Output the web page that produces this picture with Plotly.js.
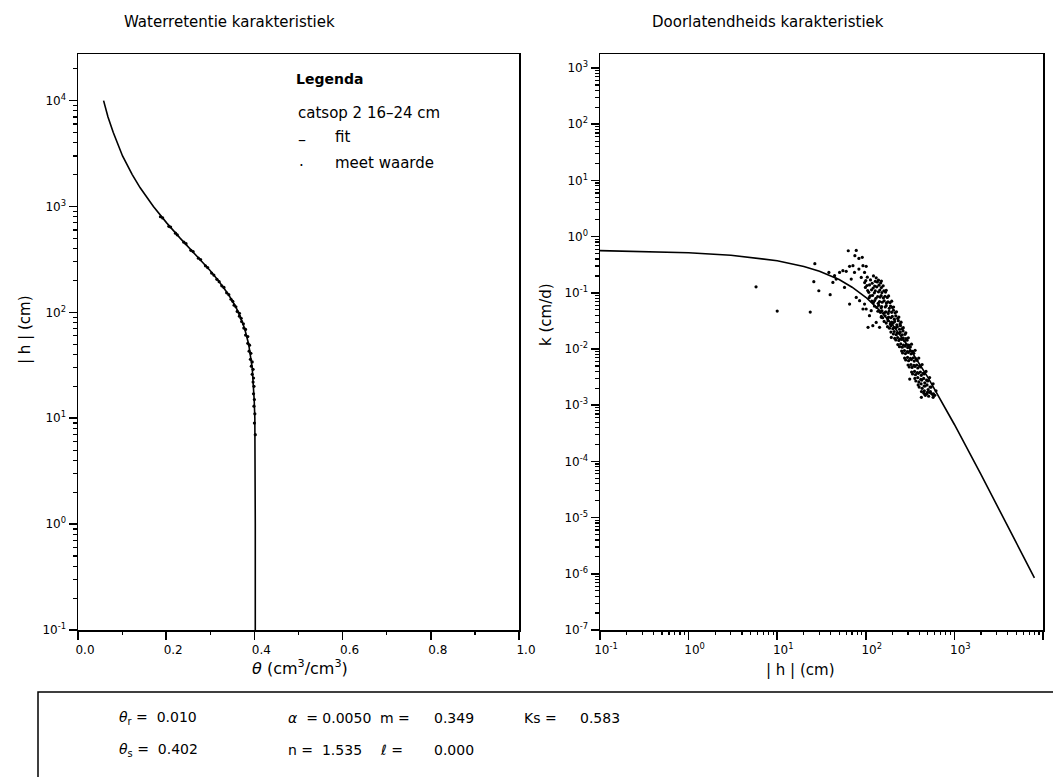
<!DOCTYPE html>
<html><head><meta charset="utf-8">
<script src="https://cdn.plot.ly/plotly-3.0.1.min.js"></script>
<style>html,body{margin:0;padding:0;background:#fff}#chart{width:1053px;height:777px}</style>
</head><body><div id="chart"></div>
<script>
// ---- Water retention: fitted curve (theta, |h|)
const fitH     = [10000, 7000, 5000, 3000, 2000, 1500, 1000, 700, 500, 400, 300, 250, 200, 150, 120, 100, 70, 50, 30, 20, 15, 10, 5, 1, 0.1];
const fitTheta = [0.058, 0.068, 0.080, 0.101, 0.123, 0.141, 0.171, 0.201, 0.232, 0.254, 0.282, 0.299, 0.318, 0.340, 0.354, 0.364, 0.378, 0.387, 0.395, 0.398, 0.3995, 0.401, 0.4015, 0.402, 0.402];
// ---- Water retention: measured values
const measTheta = [0.187,0.192,0.206,0.210,0.221,0.225,0.240,0.245,0.256,0.261,0.273,0.278,0.289,0.294,0.303,0.308,0.315,0.320,0.326,0.331,0.337,0.342,0.347,0.351,0.354,0.358,0.361,0.366,0.366,0.370,0.371,0.375,0.376,0.380,0.380,0.385,0.385,0.389,0.388,0.392,0.391,0.395,0.393,0.397,0.395,0.398,0.397,0.399,0.398,0.400,0.399,0.401,0.400,0.402];
const measH     = [800,780,650,640,560,540,460,445,385,375,325,315,275,265,235,225,205,195,178,172,153,147,133,127,117,113,102,98,92,88,82,78,71,69,61,59,51,49,43,41,36,34,31,29,26,24,22,20,17,15,13,11,9,7];

// ---- Conductivity: fitted curve (|h|, k)
const condFitH = [0.1, 0.3, 1, 3, 10, 20, 30, 50, 70, 100, 150, 200, 300, 500, 700, 1000, 2000, 3000, 5000, 8000];
const condFitK = [0.563, 0.548, 0.517, 0.467, 0.373, 0.295, 0.242, 0.172, 0.126, 0.0833, 0.0454, 0.0269, 0.0113, 0.00316, 0.00126, 4.54e-4, 5.81e-5, 1.70e-5, 3.59e-6, 8.5e-7];
// ---- Conductivity: measured values (scattered points, then the dense band)
const condMeasH = [
 5.77,10.0,23.6,26.6,25.9,29.5,39.6,38.3,44.4,50.6,55.1,60.1,63.4,78.0,75.3,83.6,91.2,65.6,71.6,74.6,68.5,83.6,92.9,101,96.8,88.9,42.5,46.3,57.5,65.6,78,85.1,92.9,96.8,110,120,106,101,115,131,150,143,194,313,424,575,527,462,
 104,122,131,
 100,113,128,139,150,
 97,118,135,147,
 103,110,126,141,157,
 99,121,133,150,
 105,116,128,144,160,170,
 108,125,139,152,167,
 112,119,136,149,165,181,
 109,130,145,158,175,
 117,126,143,161,178,196,
 122,138,153,171,188,
 125,140,151,170,190,206,
 133,149,166,184,200,
 137,152,168,183,205,222,
 146,162,179,196,214,
 150,165,181,199,218,236,
 155,176,192,210,229,
 161,178,196,212,233,250,
 170,189,204,224,244,
 176,192,208,227,246,265,
 185,202,219,240,258,
 192,209,226,245,263,283,
 205,221,239,257,277,
 212,229,246,265,284,302,
 218,236,255,273,292,
 230,248,266,286,306,328,
 240,258,278,297,318,
 254,273,294,316,338,360,
 260,280,302,324,348,
 274,296,319,344,369,396,
 282,304,327,352,378,
 300,323,349,375,404,432,
 309,333,359,386,416,
 329,355,382,413,444,478,
 337,364,392,423,455,
 358,386,417,450,485,525,
 367,397,428,463,500,
 390,421,455,491,531,575,
 400,432,467,505,546,
 425,458,496,536,580,620,
 450,488,528,570,
 470,512,555,600];
const condMeasK = [
 0.128,0.0474,0.0455,0.33,0.158,0.109,0.0927,0.231,0.202,0.231,0.248,0.241,0.561,0.569,0.458,0.41,0.428,0.296,0.304,0.231,0.176,0.265,0.304,0.296,0.231,0.188,0.153,0.176,0.125,0.063,0.083,0.0724,0.0515,0.063,0.0392,0.026,0.0243,0.0515,0.0481,0.0298,0.0366,0.0243,0.0161,0.00292,0.00138,0.00138,0.0017,0.00158,
 0.19,0.2,0.185,
 0.165,0.17,0.16,0.168,0.162,
 0.152,0.148,0.156,0.15,
 0.135,0.138,0.132,0.137,0.133,
 0.125,0.122,0.128,0.124,
 0.11,0.113,0.108,0.112,0.109,0.111,
 0.102,0.1,0.104,0.101,0.103,
 0.088,0.09,0.086,0.089,0.087,0.088,
 0.082,0.08,0.084,0.081,0.083,
 0.071,0.073,0.07,0.072,0.069,0.071,
 0.067,0.065,0.068,0.066,0.067,
 0.058,0.06,0.057,0.059,0.058,0.056,
 0.055,0.054,0.056,0.053,0.055,
 0.047,0.048,0.046,0.047,0.049,0.046,
 0.045,0.044,0.043,0.045,0.044,
 0.038,0.039,0.037,0.038,0.039,0.037,
 0.036,0.035,0.036,0.034,0.035,
 0.031,0.032,0.03,0.031,0.032,0.03,
 0.029,0.028,0.029,0.027,0.028,
 0.025,0.026,0.024,0.025,0.026,0.024,
 0.0235,0.023,0.024,0.0225,0.023,
 0.02,0.0205,0.0195,0.02,0.021,0.0195,
 0.0185,0.018,0.019,0.0178,0.0183,
 0.0155,0.016,0.0152,0.0157,0.0153,0.0158,
 0.0145,0.0142,0.0148,0.014,0.0144,
 0.012,0.0123,0.0118,0.0121,0.0117,0.0122,
 0.011,0.0108,0.0112,0.0106,0.0109,
 0.0092,0.0094,0.009,0.0093,0.0091,0.0095,
 0.0085,0.0083,0.0087,0.0082,0.0084,
 0.0069,0.0071,0.0068,0.007,0.0067,0.0069,
 0.0064,0.0062,0.0065,0.0061,0.0063,
 0.0052,0.0053,0.0051,0.0052,0.005,0.0053,
 0.0048,0.0047,0.0049,0.0046,0.0048,
 0.0039,0.004,0.0038,0.0039,0.0037,0.004,
 0.0036,0.0035,0.0037,0.0034,0.0036,
 0.003,0.0031,0.0029,0.003,0.0028,0.0031,
 0.0027,0.0026,0.0028,0.0025,0.0027,
 0.0023,0.0024,0.0022,0.0023,0.0021,0.0024,
 0.0021,0.002,0.0022,0.0019,0.0021,
 0.00175,0.0018,0.0017,0.00175,0.0016,0.0018,
 0.00165,0.0016,0.0017,0.00155,
 0.0015,0.00145,0.0016,0.0015];

// ---- Tick labels
const leftYTickVals  = [0.1, 1, 10, 100, 1000, 10000];
const leftYTickText  = ['10<sup>-1</sup>','10<sup>0</sup>','10<sup>1</sup>','10<sup>2</sup>','10<sup>3</sup>','10<sup>4</sup>'];
const leftXTickVals  = [0, 0.2, 0.4, 0.6, 0.8, 1.0];
const leftXTickText  = ['0.0','0.2','0.4','0.6','0.8','1.0'];
const leftXMinorVals = [0.1, 0.3, 0.5, 0.7, 0.9];
const rightXTickVals = [0.1, 1, 10, 100, 1000, 10000];
const rightXTickText = ['10<sup>-1</sup>','10<sup>0</sup>','10<sup>1</sup>','10<sup>2</sup>','10<sup>3</sup>','10<sup>4</sup>'];
const rightYTickVals = [1e-7,1e-6,1e-5,1e-4,1e-3,1e-2,1e-1,1,10,100,1000];
const rightYTickText = ['10<sup>-7</sup>','10<sup>-6</sup>','10<sup>-5</sup>','10<sup>-4</sup>','10<sup>-3</sup>','10<sup>-2</sup>','10<sup>-1</sup>','10<sup>0</sup>','10<sup>1</sup>','10<sup>2</sup>','10<sup>3</sup>'];

function logMinor(e0, e1, maxV) {
  const out = [];
  for (let e = e0; e <= e1; e++) for (let d = 2; d <= 9; d++) {
    const v = d * Math.pow(10, e);
    if (v <= maxV) out.push(v);
  }
  return out;
}

const W = 1053, H = 777;
const px = x => x / W, py = y => 1 - y / H;
const FONT = 'DejaVu Sans, sans-serif';
const yDom = [py(630), py(54)];
const xDomL = [px(78), px(519)], xDomR = [px(600), px(1043)];

const axisBase = {
  showline: true, linecolor: '#000', linewidth: 1.5, mirror: true,
  ticks: 'outside', ticklen: 8, tickwidth: 1.5, tickcolor: '#000',
  showgrid: false, zeroline: false, tickmode: 'array',
  tickfont: {family: FONT, size: 12, color: '#000'}
};
const minorBase = {
  showline: false, showgrid: false, zeroline: false, showticklabels: false,
  ticks: 'outside', ticklen: 4, tickwidth: 1.2, tickcolor: '#000', tickmode: 'array'
};

const traces = [
  // empty traces that only carry the minor-tick overlay axes (drawn first, below the data)
  {x: [], y: [], xaxis: 'x3', yaxis: 'y3', type: 'scatter', mode: 'markers', hoverinfo: 'skip'},
  {x: [], y: [], xaxis: 'x4', yaxis: 'y4', type: 'scatter', mode: 'markers', hoverinfo: 'skip'},
  {x: fitTheta, y: fitH, xaxis: 'x', yaxis: 'y', mode: 'lines', line: {color: '#000', width: 1.6}, hoverinfo: 'skip'},
  {x: measTheta, y: measH, xaxis: 'x', yaxis: 'y', mode: 'markers', marker: {color: '#000', size: 3.2}, hoverinfo: 'skip'},
  {x: condFitH, y: condFitK, xaxis: 'x2', yaxis: 'y2', mode: 'lines', line: {color: '#000', width: 1.6}, hoverinfo: 'skip'},
  {x: condMeasH, y: condMeasK, xaxis: 'x2', yaxis: 'y2', mode: 'markers', marker: {color: '#000', size: 3.2}, hoverinfo: 'skip'}
];

const ann = (x, y, text, opts) => Object.assign({xref: 'paper', yref: 'paper', x: px(x), y: py(y), text, showarrow: false,
  xanchor: 'left', yanchor: 'middle', font: {family: FONT, size: 13, color: '#000'}}, opts || {});
const f = s => ({family: FONT, size: s, color: '#000'});

const annotations = [
  ann(122, 22, 'Waterretentie karakteristiek', {font: f(15)}),
  ann(650, 22, 'Doorlatendheids karakteristiek', {font: f(15)}),
  ann(294, 79, '<b>Legenda</b>', {font: f(14)}),
  ann(296, 113, 'catsop 2 16\u201324 cm', {font: f(15)}),
  ann(296, 140, '\u2013', {font: f(16)}),
  ann(333, 137, 'fit', {font: f(15)}),
  ann(297, 161, '.', {font: f(15)}),
  ann(333, 163, 'meet waarde', {font: f(15)}),
  ann(25, 330, '| h | (cm)', {textangle: -90, xanchor: 'center', font: f(15)}),
  ann(300, 667, '<i>\u03b8</i> (cm<sup>3</sup>/cm<sup>3</sup>)', {xanchor: 'center', font: f(16)}),
  ann(546, 315, 'k (cm/d)', {textangle: -90, xanchor: 'center', font: f(15)}),
  ann(800, 670, '| h | (cm)', {xanchor: 'center', font: f(15)}),
  // parameter box
  ann(117, 718, '<i>\u03b8</i><sub>r</sub> =  0.010', {font: f(14)}),
  ann(117, 750, '<i>\u03b8</i><sub>s</sub> =  0.402', {font: f(14)}),
  ann(286, 718, '<i>\u03b1</i>  = 0.0050', {font: f(14)}),
  ann(286, 750, 'n =  1.535', {font: f(14)}),
  ann(378, 718, 'm =', {font: f(14)}),
  ann(378, 750, '<i>\u2113</i> =', {font: f(14)}),
  ann(432, 718, '0.349', {font: f(14)}),
  ann(432, 750, '0.000', {font: f(14)}),
  ann(522, 718, 'Ks =', {font: f(14)}),
  ann(578, 718, '0.583', {font: f(14)})
];

const layout = {
  width: W, height: H, margin: {l: 0, r: 0, t: 0, b: 0},
  paper_bgcolor: '#fff', plot_bgcolor: 'rgba(0,0,0,0)', showlegend: false,
  font: {family: FONT, color: '#000'},
  xaxis: Object.assign({}, axisBase, {domain: xDomL, range: [0, 1], type: 'linear', anchor: 'y',
    tickvals: leftXTickVals, ticktext: leftXTickText, ticklabelshift: 7}),
  yaxis: Object.assign({}, axisBase, {domain: yDom, type: 'log', range: [-1, 4.44], anchor: 'x',
    tickvals: leftYTickVals, ticktext: leftYTickText}),
  xaxis2: Object.assign({}, axisBase, {domain: xDomR, type: 'log', range: [-1, 4], anchor: 'y2',
    tickvals: rightXTickVals, ticktext: rightXTickText, ticklabelshift: 6}),
  yaxis2: Object.assign({}, axisBase, {domain: yDom, type: 'log', range: [-7, 3.25], anchor: 'x2',
    tickvals: rightYTickVals, ticktext: rightYTickText}),
  // minor tick overlays
  xaxis3: Object.assign({}, minorBase, {domain: xDomL, range: [0, 1], type: 'linear', anchor: 'y3', overlaying: 'x', tickvals: leftXMinorVals}),
  yaxis3: Object.assign({}, minorBase, {domain: yDom, range: [-1, 4.44], type: 'log', anchor: 'x3', overlaying: 'y', tickvals: logMinor(-1, 4, 27000)}),
  xaxis4: Object.assign({}, minorBase, {domain: xDomR, range: [-1, 4], type: 'log', anchor: 'y4', overlaying: 'x2', tickvals: logMinor(-1, 3, 1e4)}),
  yaxis4: Object.assign({}, minorBase, {domain: yDom, range: [-7, 3.25], type: 'log', anchor: 'x4', overlaying: 'y2', tickvals: logMinor(-7, 3, 1700)}),
  shapes: [
    {type: 'rect', xref: 'paper', yref: 'paper', x0: px(38), x1: px(1060), y0: py(800), y1: py(692),
     line: {color: '#000', width: 1.5}, fillcolor: 'rgba(0,0,0,0)'}
  ],
  annotations
};

Plotly.newPlot('chart', traces, layout, {staticPlot: true, displayModeBar: false});
</script></body></html>
